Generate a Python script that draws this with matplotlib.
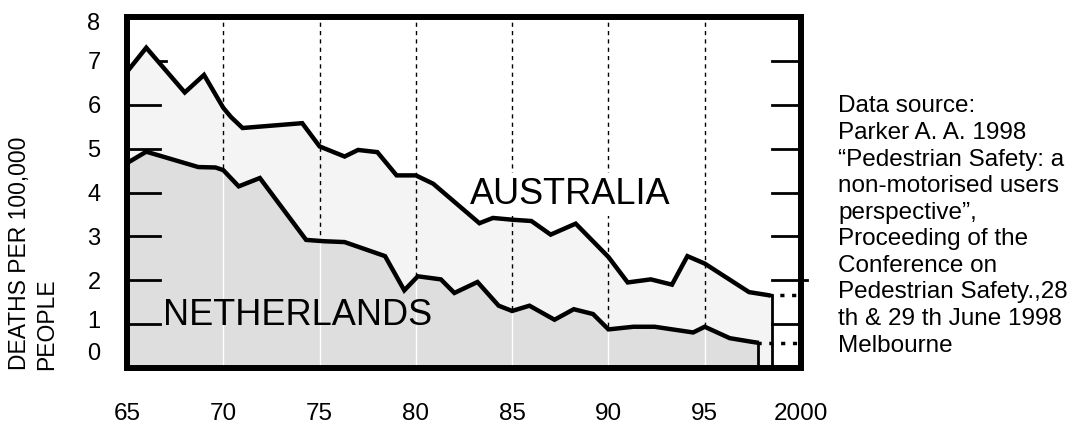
import matplotlib
matplotlib.use("Agg")
import matplotlib.pyplot as plt
import matplotlib.transforms as mtransforms
import numpy as np

plt.rcParams["font.family"] = ["Liberation Sans", "DejaVu Sans"]

# Australia, deaths per 100,000 people
aus_years = [1965, 1966, 1968, 1969, 1970, 1970.4, 1971, 1974.1, 1975, 1976.3,
             1977, 1978, 1979, 1980, 1980.9, 1983.3, 1984, 1985, 1986, 1987,
             1988.3, 1990, 1991, 1992.2, 1993.3, 1994.1, 1995, 1997.3, 1998.3]
aus_values = [6.75, 7.3, 6.28, 6.68, 5.93, 5.72, 5.47, 5.58, 5.05, 4.82,
              4.97, 4.92, 4.39, 4.39, 4.2, 3.3, 3.42, 3.38, 3.35, 3.04,
              3.29, 2.53, 1.95, 2.02, 1.9, 2.55, 2.38, 1.73, 1.66]
aus_cutoff = 1998.5

# Netherlands
nl_years = [1965, 1966, 1968.7, 1969.6, 1970, 1970.8, 1971.9, 1974.3, 1975.2,
            1976.3, 1978.4, 1979.4, 1980.1, 1981.3, 1982, 1983.2, 1984.3, 1985,
            1985.9, 1987.2, 1988.2, 1989.2, 1990, 1991.3, 1992.4, 1994.4, 1995,
            1996.3, 1997.4, 1997.7]
nl_values = [4.67, 4.93, 4.58, 4.57, 4.51, 4.14, 4.33, 2.92, 2.89,
             2.87, 2.55, 1.77, 2.09, 2.02, 1.71, 1.96, 1.42, 1.3,
             1.42, 1.1, 1.34, 1.23, 0.88, 0.94, 0.94, 0.81, 0.94,
             0.68, 0.6, 0.58]
nl_cutoff = 1997.75

x_ticks = [1965, 1970, 1975, 1980, 1985, 1990, 1995, 2000]
x_labels = ["65", "70", "75", "80", "85", "90", "95", "2000"]
y_ticks = [0, 1, 2, 3, 4, 5, 6, 7, 8]
grid_years = [1970, 1975, 1980, 1985, 1990, 1995]
left_stubs = [1, 2, 3, 4, 5, 6]
right_stubs = [1, 2, 3, 4, 5, 6, 7]

source_text = ("Data source:\nParker A. A. 1998\n\u201cPedestrian Safety: a\n"
               "non-motorised users\nperspective\u201d,\nProceeding of the\n"
               "Conference on\nPedestrian Safety.,28\nth & 29 th June 1998\n"
               "Melbourne")

W, H = 1076, 433
fig = plt.figure(figsize=(W / 100, H / 100), dpi=100)
ax = fig.add_axes([127 / W, 65 / H, (801 - 127) / W, (368 - 17) / H])
ax.set_xlim(1965, 2000)
ax.set_ylim(0, 8)

# fills
aus_fx = aus_years + [aus_cutoff]
aus_fy = aus_values + [aus_values[-1]]
nl_fx = nl_years + [nl_cutoff]
nl_fy = nl_values + [nl_values[-1]]
ax.fill_between(aus_fx, aus_fy, 0, color="#f4f4f4", lw=0, zorder=1)
for gx in grid_years:
    ax.axvline(gx, color="black", lw=1, ls=(0, (3, 3)), zorder=1.5)
nl_fill = ax.fill_between(nl_fx, nl_fy, 0, color="#dedede", lw=0, zorder=2)
clip = nl_fill.get_paths()[0]
for gx in grid_years:
    wl = ax.axvline(gx, color="white", lw=1, zorder=2.5)
    wl.set_clip_path(clip, ax.transData)

# data lines
ax.plot(aus_years, aus_values, color="black", lw=3.2, solid_joinstyle="miter",
        zorder=4)
ax.plot(nl_years, nl_values, color="black", lw=3.2, solid_joinstyle="miter",
        zorder=4)

# dotted continuation and end markers
for yrs, vals, cut in [(aus_years, aus_values, aus_cutoff),
                       (nl_years, nl_values, nl_cutoff)]:
    ax.plot([yrs[-1], 2000], [vals[-1], vals[-1]], color="black", lw=2.5,
            ls=(0, (1.2, 2.2)), zorder=4)
    ax.plot([cut, cut], [0, vals[-1]], color="black", lw=2, zorder=4)

# inner tick stubs
for v in left_stubs:
    ax.plot([1965.05, 1966.7], [v, v], color="black", lw=2, zorder=3)
ax.plot([1966.6, 1967.0], [7, 7], color="black", lw=2, zorder=3)
for v in right_stubs:
    x_end = 2000.3 if v == 2 else 2000
    ax.plot([aus_cutoff, x_end], [v, v], color="black", lw=2, zorder=3,
            clip_on=False)

# labels inside the plot
ax.text(1982.8, 3.74, "AUSTRALIA", fontsize=26, ha="left", va="baseline",
        bbox=dict(fc="white", ec="none", pad=3), zorder=3)
ax.text(1966.85, 0.97, "NETHERLANDS", fontsize=26, ha="left", va="baseline",
        zorder=3)

for s in ax.spines.values():
    s.set_linewidth(4.3)
    s.set_color("black")
    s.set_capstyle("projecting")
    s.set_zorder(5)

ax.set_xticks(x_ticks)
ax.set_xticklabels(x_labels, fontsize=17.5)
ax.set_yticks(y_ticks)
ax.set_yticklabels([str(v) for v in y_ticks], fontsize=17)
ax.tick_params(axis="x", length=0, pad=25)
ax.tick_params(axis="y", length=0, pad=19)

shifts = {0: 0.16, 1: 0.05, 8: -0.04}
for v, lbl in zip(y_ticks, ax.get_yticklabels()):
    if v in shifts:
        lbl.set_transform(lbl.get_transform() +
                          mtransforms.ScaledTranslation(0, shifts[v],
                                                        fig.dpi_scale_trans))

fig.text(33 / W, 1 - 370 / H, "DEATHS PER 100,000\nPEOPLE", rotation=90,
         fontsize=16.5, ha="center", va="bottom", multialignment="left",
         linespacing=1.2)

fig.text(838 / W, 1 - 226 / H, source_text, fontsize=17.5, ha="left",
         va="center", linespacing=1.27)

fig.savefig("out.png", dpi=100)
